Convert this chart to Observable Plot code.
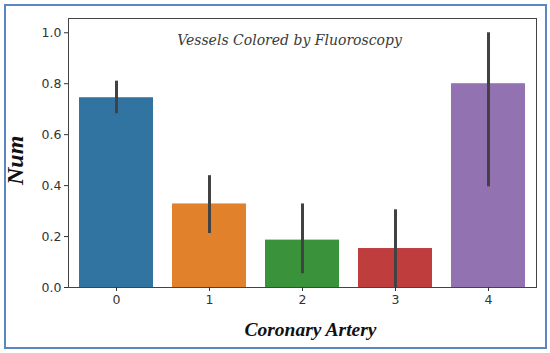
<!DOCTYPE html>
<html>
<head>
<meta charset="utf-8">
<script src="https://cdn.jsdelivr.net/npm/d3@7"></script>
<script src="https://cdn.jsdelivr.net/npm/@observablehq/plot@0.6"></script>
<style>
  html, body { margin: 0; padding: 0; background: #fff; }
  #wrap { position: relative; width: 550px; height: 353px; overflow: hidden; }
  #border { position: absolute; left: 4px; top: 4px; width: 539px; height: 341px;
            border: 2px solid #5b86c4; pointer-events: none; }
  svg { display: block; }
</style>
</head>
<body>
<div id="wrap"><div id="border"></div></div>
<script>
const categories = ["0", "1", "2", "3", "4"];
const means  = [0.745, 0.328, 0.186, 0.153, 0.80];
const ciLow  = [0.682, 0.212, 0.054, 0.0, 0.395];
const ciHigh = [0.810, 0.439, 0.328, 0.305, 1.0];
const colors = ["#3274a1", "#e1812c", "#3a923a", "#c03d3e", "#9372b2"];
const yTicks = [0, 0.2, 0.4, 0.6, 0.8, 1.0];
const titleText = "Vessels Colored by Fluoroscopy";
const xLabel = "Coronary Artery";
const yLabel = "Num";

const data = categories.map((c, i) => ({cat: c, v: means[i], lo: ciLow[i], hi: ciHigh[i]}));

const chart = Plot.plot({
  width: 550,
  height: 353,
  marginLeft: 68,
  marginRight: 14,
  marginTop: 18,
  marginBottom: 66,
  style: {background: "transparent", fontFamily: "DejaVu Sans, sans-serif", fontSize: "12.5px", color: "#333"},
  x: {type: "band", domain: categories, paddingInner: 0.2, paddingOuter: 0.1},
  y: {domain: [0, 1.056]},
  color: {domain: categories, range: colors},
  marks: [
    Plot.barY(data, {x: "cat", y: "v", fill: "cat"}),
    Plot.ruleX(data, {x: "cat", y1: "lo", y2: "hi", stroke: "#424242", strokeWidth: 3}),
    Plot.frame({stroke: "#444", strokeWidth: 1}),
    Plot.axisX({ticks: categories, tickSize: 4, tickPadding: 4, label: null, stroke: "#333", fill: "#333", fontSize: "12.5px"}),
    Plot.axisY({ticks: yTicks, tickFormat: d3.format(".1f"), tickSize: 4, tickPadding: 3, label: null, stroke: "#333", fill: "#333", fontSize: "12.5px"}),
    Plot.text([titleText], {text: d => d, frameAnchor: "top", dx: -13, dy: 17,
      fontFamily: "DejaVu Serif, serif", fontStyle: "italic", fontSize: 14, fill: "#3a3a3a"}),
    Plot.text([xLabel], {text: d => d, frameAnchor: "bottom", dx: 8, dy: 48,
      fontFamily: "Liberation Serif, serif", fontStyle: "italic", fontWeight: "bold", fontSize: 19.5, fill: "#111"}),
    Plot.text([yLabel], {text: d => d, frameAnchor: "left", dx: -53, dy: 32, rotate: -90,
      fontFamily: "Liberation Serif, serif", fontStyle: "italic", fontWeight: "bold", fontSize: 24, fill: "#111"})
  ]
});
document.getElementById("wrap").prepend(chart);
</script>
</body>
</html>
